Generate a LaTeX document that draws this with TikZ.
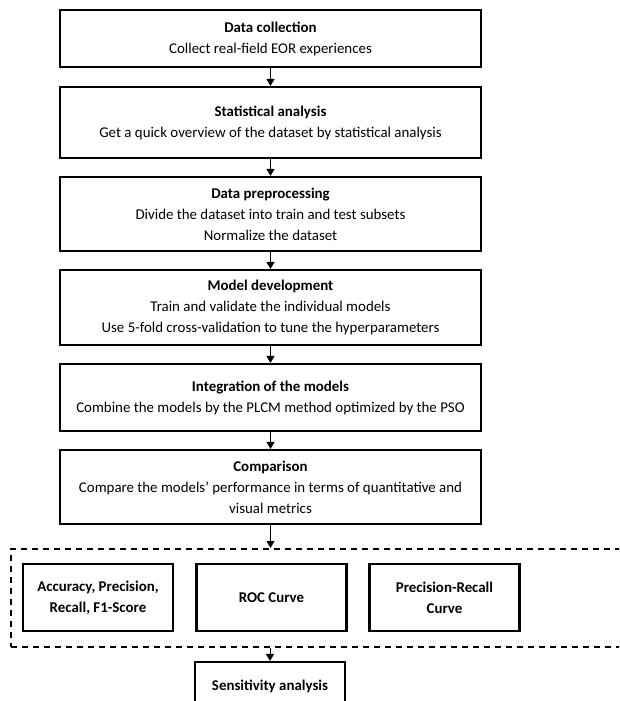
\documentclass[tikz,border=0pt]{standalone}
\usepackage{fontspec}
\setmainfont{Carlito}
\usetikzlibrary{arrows.meta}
\begin{document}
\begin{tikzpicture}[x=1pt,y=-1pt,
  stage/.style={draw, line width=2.1pt, minimum width=421pt, align=center,
    inner sep=0pt, font=\fontsize{14.9}{21}\selectfont},
  metric/.style={draw, line width=2.1pt, minimum width=150pt, minimum height=67pt,
    align=center, inner sep=0pt, font=\fontsize{14.9}{21}\selectfont\bfseries},
  group/.style={draw, line width=2pt, dash pattern=on 6pt off 5pt},
  flow/.style={line width=1pt, -{Triangle[length=7pt,width=8pt]}}]
\fill[white] (0,0) rectangle (619,701);
\clip (0,0) rectangle (619,701);
\useasboundingbox (0,0) rectangle (619,701);

% main pipeline
\node[stage, minimum height=57pt] (collect) at (270.5,38.5)
  {\textbf{Data collection}\\Collect real-field EOR experiences};
\node[stage, minimum height=71pt] (stats) at (270.5,122.5)
  {\textbf{Statistical analysis}\\Get a quick overview of the dataset by statistical analysis};
\node[stage, minimum height=74pt] (prep) at (270.5,214)
  {\textbf{Data preprocessing}\\Divide the dataset into train and test subsets\\Normalize the dataset};
\node[stage, minimum height=75pt] (model) at (270.5,307.5)
  {\textbf{Model development}\\Train and validate the individual models\\Use 5-fold cross-validation to tune the hyperparameters};
\node[stage, minimum height=67pt] (integ) at (270.5,397.5)
  {\textbf{Integration of the models}\\Combine the models by the PLCM method optimized by the PSO};
\node[stage, minimum height=74pt] (comp) at (270.5,487)
  {\textbf{Comparison}\\Compare the models’ performance in terms of quantitative and\\visual metrics};

% evaluation group
\node[group, minimum width=630pt, minimum height=98pt] (evalgrp) at (326,598) {};
\node[metric] (acc) at (98,597.5) {Accuracy, Precision,\\Recall, F1-Score};
\node[metric] (roc) at (271.5,597.5) {ROC Curve};
\node[metric] (prc) at (444.5,597.5) {Precision-Recall\\Curve};

% final step
\node[metric, minimum height=58pt] (sens) at (270,691) {};
\node[font=\fontsize{14.9}{21}\selectfont\bfseries] (senstext) at (270,686.5) {Sensitivity analysis};

% connectors
\draw[flow] (collect) -- (stats);
\draw[flow] (stats) -- (prep);
\draw[flow] (prep) -- (model);
\draw[flow] (model) -- (integ);
\draw[flow] (integ) -- (comp);
\draw[flow] (comp.south) -- (comp.south |- evalgrp.north);
\draw[flow] (sens.north |- evalgrp.south) -- (sens.north);
\end{tikzpicture}
\end{document}
